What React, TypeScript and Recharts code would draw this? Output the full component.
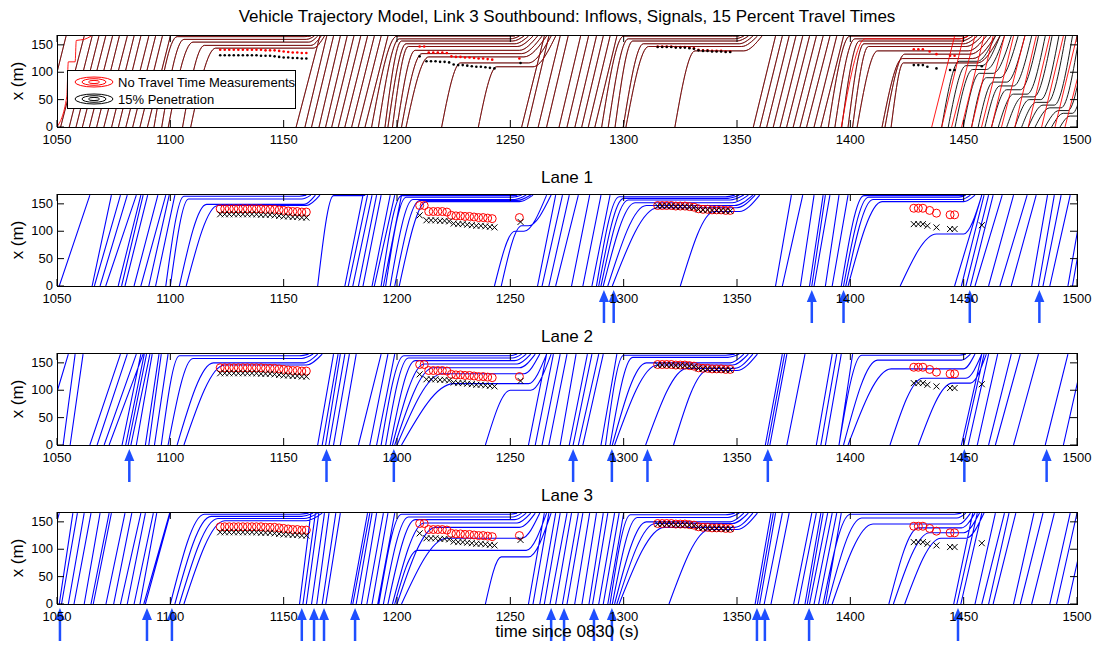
import React from 'react';
import { ComposedChart, Line, Scatter, XAxis, YAxis } from 'recharts';

// [enter time, exit time] : vehicles that cross the link without stopping
// [enter time, time reaching queue, queue position, departure time, exit time] : vehicles that stop
type Free = [number, number];
type Queued = [number, number, number, number, number];

const T_TICKS = [1050, 1100, 1150, 1200, 1250, 1300, 1350, 1400, 1450, 1500];
const X_TICKS = [0, 50, 100, 150];
const LINK_END = 166;

// ---- top panel (whole link) ----
const topFree: Free[] = [
  [1044, 1054], [1051.6, 1062], [1055.4, 1065.5], [1058.4, 1068.5], [1061.2, 1071.5], [1064.3, 1074.5], [1067.5, 1077.5],
  [1070.7, 1081], [1074.1, 1084], [1077.1, 1087], [1080.4, 1090.5], [1083.4, 1093.5], [1086.6, 1096.5], [1089.9, 1100],
  [1155.5, 1166], [1159.4, 1169], [1162.3, 1172], [1165.6, 1175], [1168.5, 1178], [1171.2, 1181], [1174.1, 1184],
  [1177, 1187], [1180, 1190], [1182.9, 1193], [1185.9, 1196],
  [1255, 1265], [1257.5, 1267], [1262.3, 1272], [1266, 1275.5], [1271.5, 1281], [1275, 1284.5], [1278.5, 1288],
  [1281.5, 1291], [1284.4, 1294], [1287.3, 1297],
  [1357.2, 1367], [1360.1, 1370], [1363.1, 1373], [1366, 1376], [1369, 1379], [1371.9, 1382], [1374.8, 1385],
  [1377.8, 1388], [1380.7, 1391], [1384, 1394], [1387, 1397],
];
const topQueued: Queued[] = [
  [1092.8, 1103, 165, 1159, 1162], [1096.2, 1106, 160, 1160, 1163.5], [1099.1, 1110, 155, 1161, 1165],
  [1105.4, 1115, 149, 1162, 1166.5], [1109, 1120, 144, 1163, 1168],
  [1188.8, 1200, 166, 1249, 1252], [1191.8, 1201, 161, 1250, 1254], [1194.7, 1202, 157, 1251, 1256], [1196, 1204, 152, 1252, 1258],
  [1198, 1205, 147, 1253, 1260], [1200, 1208, 140, 1254, 1262], [1202, 1211, 134, 1255, 1264], [1204, 1214, 128, 1256, 1266],
  [1219.7, 1228, 117, 1258, 1268], [1235.9, 1244, 110, 1260, 1270],
  [1290.3, 1300, 166, 1348, 1351], [1293.2, 1302, 161, 1349, 1353], [1296.2, 1304, 157, 1350, 1355],
  [1299.8, 1308.7, 152, 1351, 1357], [1301, 1311, 147, 1352, 1359], [1322.6, 1331.5, 139, 1353, 1361],
  [1390.3, 1399.8, 166, 1447, 1450], [1393.2, 1402, 161, 1448, 1452], [1396.2, 1404, 157, 1449, 1454], [1399, 1406, 152, 1450, 1456],
  [1401, 1408, 147, 1451, 1458], [1403, 1412, 139, 1452, 1460], [1414, 1423, 125, 1454, 1464], [1415.3, 1424, 133, 1453, 1462],
  [1418, 1423.4, 117, 1456, 1466],
];
// 15% penetration model only (black)
const topBlackQueued: Queued[] = [
  [1440.3, 1448, 120, 1456, 1464], [1443.2, 1451, 112, 1458, 1466], [1446.2, 1454, 105, 1460, 1468], [1449.8, 1457, 98, 1463, 1471],
  [1453.5, 1460, 90, 1466, 1474], [1456.4, 1463, 82, 1469, 1477], [1459.4, 1466, 75, 1472, 1480], [1462.3, 1469, 68, 1475, 1483],
  [1465.3, 1472, 60, 1478, 1486], [1469, 1476, 55, 1481, 1489], [1472.6, 1479, 50, 1484, 1492], [1475.6, 1482, 45, 1487, 1495],
  [1478.5, 1485, 40, 1490, 1498], [1481.5, 1488, 35, 1493, 1501], [1485.9, 1492, 30, 1496, 1504], [1488.8, 1494, 25, 1498, 1506],
  [1492.5, 1497, 20, 1500, 1508],
];
// no travel time measurement model only (red)
const topRedFree: Free[] = [
  [1435.9, 1446], [1440.3, 1450], [1444.7, 1455], [1449.1, 1459], [1453.5, 1463], [1457.9, 1468], [1462.3, 1472],
  [1466.7, 1477], [1472.6, 1482], [1478.5, 1488], [1484.4, 1494], [1490.3, 1500], [1494.7, 1505],
];
const topRedQueued: Queued[] = [[1396, 1406.5, 161, 1448, 1452]];
const topRedStairT = [1050, 1054.3, 1055, 1058, 1058.5, 1062, 1065];
const topRedStairX = [0, 55, 119, 119, 158, 160, 166];

// ---- lanes ----
const lane1Free: Free[] = [
  [1051, 1064.5], [1065.5, 1074], [1066.5, 1078], [1069, 1081], [1071.5, 1085], [1077, 1087], [1078.5, 1088],
  [1080, 1090], [1084, 1094.5], [1087, 1098], [1090.5, 1099.5], [1093.5, 1102],
  [1177, 1185], [1178.5, 1187], [1180.5, 1189], [1183, 1191], [1185, 1193], [1189, 1197], [1190, 1199], [1194, 1202],
  [1262, 1270], [1264, 1273], [1267, 1276], [1270, 1280], [1277, 1285], [1282, 1290], [1286, 1294],
  [1367, 1374], [1370, 1379], [1378, 1384], [1382, 1388], [1383, 1389], [1384, 1391], [1389, 1395], [1392, 1399],
  [1446, 1458], [1449, 1459], [1451, 1461], [1453, 1463], [1455, 1467], [1461, 1472], [1466, 1478], [1471, 1482],
  [1480, 1487], [1483, 1490], [1485, 1493], [1488, 1497], [1496, 1503], [1498, 1505],
];
const lane1Queued: Queued[] = [
  [1098, 1106, 164, 1157, 1160], [1100, 1108, 159, 1158, 1162], [1104, 1116, 149, 1159, 1164], [1107, 1121, 147, 1160, 1166],
  [1165, 1172, 165, 1184, 1186],
  [1193, 1202, 165, 1250, 1253], [1195, 1204, 162, 1251, 1255], [1197, 1207, 158, 1252, 1257], [1199, 1210, 156, 1253, 1259],
  [1201, 1213, 154, 1254, 1260], [1243, 1252, 100, 1256, 1266], [1246, 1255, 110, 1258, 1268],
  [1288, 1298, 163, 1345, 1349], [1289, 1300, 160, 1346, 1351], [1290, 1302, 157, 1347, 1353], [1291, 1305, 152, 1348, 1355],
  [1293, 1310, 147, 1349, 1357], [1295, 1315, 143, 1350, 1358], [1325, 1340, 136, 1351, 1360],
  [1396, 1406, 165, 1447, 1450], [1397, 1408, 162, 1448, 1451], [1398, 1410, 158, 1449, 1453], [1399, 1414, 154, 1450, 1455],
  [1422, 1438, 95, 1450, 1458],
];
const lane1Arrows = [1291.3, 1295.6, 1383, 1397, 1452.7, 1483.4];

const lane2Free: Free[] = [
  [1043, 1055], [1052.7, 1058], [1055.8, 1061.5], [1064.5, 1078], [1067.7, 1081], [1070.8, 1085], [1073, 1088],
  [1078.7, 1087], [1080.3, 1088.5], [1081.4, 1089.5], [1082.6, 1091], [1085, 1092], [1089, 1095], [1090.5, 1096], [1093, 1099],
  [1165, 1172], [1167, 1174], [1168.5, 1175], [1170, 1177], [1172, 1179], [1175, 1182], [1183, 1193], [1188, 1196], [1191, 1199],
  [1258, 1266], [1261, 1269], [1264, 1272], [1267, 1275], [1272, 1279], [1276, 1284], [1277.7, 1286], [1280, 1289],
  [1282, 1291], [1290, 1297],
  [1362.5, 1370], [1363.5, 1371], [1364.5, 1372], [1372, 1380], [1385, 1392], [1387, 1394], [1389, 1396], [1395, 1401],
  [1449, 1458], [1450, 1459], [1452, 1461], [1456, 1465], [1461, 1471], [1464, 1475], [1472, 1483], [1486, 1496], [1494, 1503],
];
const lane2Queued: Queued[] = [
  [1096, 1104, 163, 1157, 1161], [1099, 1110, 158, 1158, 1163], [1103, 1119, 150, 1159, 1165], [1106, 1124, 146, 1160, 1167],
  [1193, 1203, 163, 1250, 1253], [1195, 1205, 159, 1251, 1255], [1197, 1208, 154, 1252, 1257], [1198, 1212, 148, 1253, 1259],
  [1199, 1216, 141, 1254, 1261], [1200, 1220, 130, 1256, 1263], [1202, 1225, 112, 1258, 1266], [1239, 1250, 100, 1259, 1268],
  [1292, 1300, 164, 1345, 1349], [1294, 1304, 160, 1346, 1351], [1295, 1310, 150, 1347, 1353], [1296, 1315, 146, 1348, 1355],
  [1309.7, 1328, 140, 1349, 1357], [1322, 1337, 136, 1350, 1359],
  [1395, 1405, 164, 1448, 1451], [1397, 1412, 155, 1449, 1453], [1399, 1418, 139, 1450, 1455], [1417.5, 1432, 122, 1451, 1458],
  [1430, 1445, 113, 1453, 1460],
];
const lane2Arrows = [1081.9, 1168.9, 1198.6, 1277.7, 1294.8, 1310.5, 1363.6, 1450.3, 1486.6];

const lane3Free: Free[] = [
  [1040, 1051], [1051, 1057], [1052, 1059], [1055, 1062], [1057.5, 1065], [1062, 1069], [1065, 1073], [1066, 1074],
  [1071.6, 1080], [1075, 1083], [1078, 1087], [1081, 1089], [1084, 1092.5], [1086.6, 1094], [1088.3, 1099.7], [1089, 1100],
  [1157, 1162], [1158.5, 1164], [1160, 1165.5], [1162.3, 1168], [1164.6, 1170], [1167, 1173], [1168.6, 1175],
  [1179.7, 1187], [1180.5, 1188], [1182, 1189], [1184.3, 1191], [1186.7, 1194], [1189, 1196], [1191.5, 1199],
  [1258, 1265], [1260, 1267], [1263, 1270], [1265, 1272], [1267.5, 1275], [1270, 1277], [1273, 1280], [1275, 1282],
  [1278.4, 1285], [1281.6, 1288], [1284.7, 1291], [1286.3, 1293], [1289, 1296], [1291, 1298], [1293, 1300],
  [1358, 1365], [1359, 1366], [1360, 1367], [1362, 1370], [1365, 1373], [1375, 1383], [1377, 1385], [1380, 1387],
  [1381, 1388], [1382, 1390], [1384, 1392], [1386, 1394], [1389, 1396],
  [1445.6, 1454], [1447, 1456], [1448.75, 1458], [1455, 1464], [1458, 1468], [1461, 1470], [1463, 1473], [1472, 1481],
  [1475, 1485], [1480, 1490], [1488, 1497], [1491, 1500], [1496, 1505],
];
const lane3Queued: Queued[] = [
  [1100, 1115, 164, 1157, 1161], [1102, 1118, 160, 1158, 1163], [1104, 1121, 156, 1159, 1165], [1106, 1124, 152, 1160, 1167],
  [1192, 1202, 164, 1250, 1253], [1194, 1205, 159, 1251, 1255], [1196, 1208, 154, 1252, 1257], [1198, 1212, 148, 1253, 1259],
  [1200, 1217, 140, 1254, 1261], [1202, 1222, 120, 1255, 1263], [1199, 1209, 98, 1257, 1266], [1239, 1246, 86, 1258, 1268],
  [1294, 1303, 163, 1345, 1349], [1295, 1306, 158, 1346, 1351], [1296, 1310, 150, 1347, 1353], [1297, 1314, 147, 1348, 1355],
  [1298, 1318, 140, 1349, 1357], [1320, 1338, 136, 1350, 1359],
  [1388, 1400, 164, 1446, 1449], [1390, 1405, 157, 1447, 1451], [1392, 1410, 146, 1448, 1453], [1417, 1430, 139, 1449, 1455],
  [1419, 1435, 130, 1450, 1457], [1424, 1440, 120, 1451, 1459],
];
const lane3Arrows = [1051.3, 1089.7, 1100.7, 1158, 1163.4, 1167.8, 1181.5, 1268, 1273.7, 1286.9, 1294.8, 1358.8, 1362.3, 1381.8, 1447.5];

// travel time measurement markers
const circleT = [
  1122, 1124, 1126, 1128, 1130, 1132, 1134, 1136, 1138, 1140, 1142, 1144, 1146, 1148, 1150, 1152, 1154, 1156, 1158, 1160,
  1210, 1212, 1214, 1216, 1218, 1220, 1222, 1224, 1226, 1228, 1230, 1232, 1234, 1236, 1238, 1240, 1242, 1254,
  1315, 1317, 1319, 1321, 1323, 1325, 1327, 1329, 1331, 1333, 1335, 1337, 1339, 1341, 1343, 1345, 1347,
  1428, 1430, 1432, 1435, 1438, 1444, 1446,
];
const circleX = [
  141, 141, 141, 141, 141, 141, 141, 141, 141, 141, 140, 140, 140, 139, 138, 137, 136, 136, 135, 135,
  147, 147, 136, 136, 136, 136, 135, 129, 128, 128, 127, 127, 126, 125, 125, 124, 123, 125,
  147, 147, 147, 147, 146, 146, 146, 145, 144, 141, 140, 140, 139, 139, 139, 138, 138,
  142, 142, 142, 138, 133, 130, 130,
];
const crossT = [
  1122, 1124, 1126, 1128, 1130, 1132, 1134, 1136, 1138, 1140, 1142, 1144, 1146, 1148, 1150, 1152, 1154, 1156, 1158, 1160,
  1210, 1213, 1215, 1217, 1219, 1221, 1223, 1225, 1227, 1229, 1231, 1233, 1235, 1237, 1239, 1241, 1243, 1254.5,
  1315, 1317, 1319, 1321, 1323, 1325, 1327, 1329, 1331, 1333, 1335, 1337, 1339, 1341, 1343, 1345, 1347,
  1428, 1430, 1432, 1434, 1438, 1444, 1446, 1458,
];
const crossX = [
  131, 131, 131, 131, 131, 131, 131, 131, 131, 130, 130, 130, 129, 128, 127, 127, 126, 126, 125, 125,
  129, 120, 120, 120, 119, 119, 118, 114, 113, 113, 112, 111, 110, 110, 109, 108, 107, 117,
  146, 146, 146, 146, 145, 145, 145, 144, 143, 140, 139, 139, 138, 138, 138, 137, 137,
  113, 113, 113, 110, 107, 104, 104, 111,
];

const FONT = "'Liberation Sans', Arial, Helvetica, sans-serif";
const BLUE = '#0000ff';
const ARROW = '#1f4fff';
const W = 1094;
const LEFT = 57;
const RIGHT = 1077;
const PH = 92;
const MT = 6;
const CH = MT + PH + 44;
const PANEL_TOPS = [35, 194, 353, 512];

type Row = { t: number; x: number | null };

const trajectoryRows = (free: Free[], queued: Queued[]): Row[] => {
  const rows: Row[] = [];
  free.forEach(([t0, t1]) => {
    rows.push({ t: t0, x: 0 }, { t: t1, x: LINK_END }, { t: t1, x: null });
  });
  queued.forEach(([t0, ta, q, tg, to]) => {
    rows.push({ t: t0, x: 0 }, { t: ta, x: q }, { t: tg, x: q }, { t: to, x: LINK_END }, { t: to, x: null });
  });
  return rows;
};

const zip = (ts: number[], xs: number[]) => ts.map((t, i) => ({ t, x: xs[i] }));
const circles = zip(circleT, circleX);
const crosses = zip(crossT, crossX);

const lanes = [
  { name: 'Lane 1', rows: trajectoryRows(lane1Free, lane1Queued), arrows: lane1Arrows },
  { name: 'Lane 2', rows: trajectoryRows(lane2Free, lane2Queued), arrows: lane2Arrows },
  { name: 'Lane 3', rows: trajectoryRows(lane3Free, lane3Queued), arrows: lane3Arrows },
];

const topShared = trajectoryRows(topFree, topQueued);
const topBlackRows = [...topShared, ...trajectoryRows([], topBlackQueued)];
const topRedOnly = [...trajectoryRows(topRedFree, topRedQueued), ...zip(topRedStairT, topRedStairX)];

const timeTick = (props: any) => {
  const { x, payload } = props;
  const bottom = MT + PH;
  return (
    <g>
      <line x1={x} x2={x} y1={bottom} y2={bottom - 7} stroke="#000" />
      <line x1={x} x2={x} y1={MT} y2={MT + 7} stroke="#000" />
      <text x={x} y={bottom + 17} textAnchor="middle" fontSize={13} fontFamily={FONT} fill="#000">
        {payload.value}
      </text>
    </g>
  );
};

const posTick = (props: any) => {
  const { y, payload } = props;
  return (
    <g>
      <line x1={LEFT} x2={LEFT + 7} y1={y} y2={y} stroke="#000" />
      <line x1={RIGHT} x2={RIGHT - 7} y1={y} y2={y} stroke="#000" />
      <text x={LEFT - 4} y={y + 4} textAnchor="end" fontSize={13} fontFamily={FONT} fill="#000">
        {payload.value}
      </text>
    </g>
  );
};

const circleShape = (p: any) => <circle cx={p.cx} cy={p.cy} r={4} fill="none" stroke="#ff0000" strokeWidth={1} />;
const crossShape = (p: any) => (
  <path d={`M${p.cx - 3},${p.cy - 3}L${p.cx + 3},${p.cy + 3}M${p.cx - 3},${p.cy + 3}L${p.cx + 3},${p.cy - 3}`} stroke="#000" strokeWidth={1} />
);
const redDot = (p: any) => <circle cx={p.cx} cy={p.cy} r={1.3} fill="#ff0000" />;
const blackDot = (p: any) => <circle cx={p.cx} cy={p.cy} r={1.3} fill="#000" />;
const arrowShape = (p: any) => (
  <g>
    <line x1={p.cx} x2={p.cx} y1={p.cy + 14} y2={p.cy + 37} stroke={ARROW} strokeWidth={2.5} />
    <polygon points={`${p.cx},${p.cy + 4} ${p.cx - 5},${p.cy + 16} ${p.cx + 5},${p.cy + 16}`} fill={ARROW} />
  </g>
);

function Frame({ top }: { top: number }) {
  return (
    <div
      style={{
        position: 'absolute', left: LEFT, top, width: RIGHT - LEFT + 1, height: PH + 1,
        border: '1px solid #000', boxSizing: 'border-box', pointerEvents: 'none',
      }}
    />
  );
}

function YLabel({ top }: { top: number }) {
  return (
    <div
      style={{
        position: 'absolute', left: 18 - 40, top: top + PH / 2 - 10, width: 80, height: 20, lineHeight: '20px',
        textAlign: 'center', transform: 'rotate(-90deg)', fontSize: 17, fontFamily: FONT,
      }}
    >
      x (m)
    </div>
  );
}

function Label({ text, cy, size }: { text: string; cy: number; size: number }) {
  return (
    <div
      style={{
        position: 'absolute', left: LEFT, width: RIGHT - LEFT, top: cy - 11, height: 22, lineHeight: '22px',
        textAlign: 'center', fontSize: size, fontFamily: FONT, color: '#000', whiteSpace: 'nowrap',
      }}
    >
      {text}
    </div>
  );
}

function Rings({ color }: { color: string }) {
  return (
    <svg width={40} height={12} style={{ display: 'block' }}>
      <ellipse cx={20} cy={6} rx={19} ry={5} fill="none" stroke={color} strokeWidth={1} />
      <ellipse cx={20} cy={6} rx={12} ry={3.3} fill="none" stroke={color} strokeWidth={1} />
      <ellipse cx={20} cy={6} rx={5.5} ry={1.6} fill="none" stroke={color} strokeWidth={1} />
    </svg>
  );
}

export default function App() {
  const panel = (top: number, children: React.ReactNode) => (
    <div style={{ position: 'absolute', left: 0, top: top - MT }}>
      <ComposedChart width={W} height={CH} margin={{ top: MT, right: W - RIGHT, bottom: 0, left: 7 }}>
        <XAxis dataKey="t" type="number" domain={[1050, 1500]} ticks={T_TICKS} allowDataOverflow interval={0}
          tick={timeTick} tickLine={false} axisLine={false} height={44} />
        <YAxis dataKey="x" type="number" domain={[0, 168]} ticks={X_TICKS} allowDataOverflow interval={0}
          tick={posTick} tickLine={false} axisLine={false} width={LEFT - 7} />
        <XAxis xAxisId="free" dataKey="t" type="number" domain={[1050, 1500]} hide />
        <YAxis yAxisId="free" dataKey="x" type="number" domain={[0, 168]} hide />
        {children}
      </ComposedChart>
    </div>
  );

  return (
    <div style={{ position: 'absolute', left: 0, top: 0, width: W, height: 645, background: '#fff', fontFamily: FONT }}>
      <Label text="Vehicle Trajectory Model, Link 3 Southbound: Inflows, Signals, 15 Percent Travel Times" cy={17} size={17} />
      {panel(PANEL_TOPS[0], [
        <Line key="b" data={topBlackRows} dataKey="x" type="monotone" stroke="#000" strokeWidth={0.9} dot={false} activeDot={false} isAnimationActive={false} />,
        <Line key="r" data={topShared} dataKey="x" type="monotone" stroke="#ff0000" strokeOpacity={0.5} strokeWidth={0.9} dot={false} activeDot={false} isAnimationActive={false} />,
        <Line key="ro" data={topRedOnly} dataKey="x" type="monotone" stroke="#ff0000" strokeWidth={0.9} dot={false} activeDot={false} isAnimationActive={false} />,
        <Scatter key="rd" data={circles} shape={redDot} isAnimationActive={false} />,
        <Scatter key="bd" data={crosses} shape={blackDot} isAnimationActive={false} />,
      ])}
      <Frame top={PANEL_TOPS[0]} />
      <YLabel top={PANEL_TOPS[0]} />
      <div
        style={{
          position: 'absolute', left: 67, top: 70, width: 229, height: 39, border: '1px solid #000',
          boxSizing: 'border-box', background: '#fff', fontSize: 13, fontFamily: FONT,
        }}
      >
        <div style={{ position: 'absolute', left: 6, top: 4, display: 'flex', alignItems: 'center', gap: 4, height: 14 }}>
          <Rings color="#ff0000" />
          <span>No Travel Time Measurements</span>
        </div>
        <div style={{ position: 'absolute', left: 6, top: 21, display: 'flex', alignItems: 'center', gap: 4, height: 14 }}>
          <Rings color="#000" />
          <span>15% Penetration</span>
        </div>
      </div>

      {lanes.map((lane, i) => {
        const top = PANEL_TOPS[i + 1];
        return (
          <React.Fragment key={lane.name}>
            <Label text={lane.name} cy={top - 16} size={17} />
            {panel(top, [
              <Line key="l" data={lane.rows} dataKey="x" type="monotone" stroke={BLUE} strokeWidth={1.1} dot={false} activeDot={false} isAnimationActive={false} />,
              <Scatter key="c" data={circles} shape={circleShape} isAnimationActive={false} />,
              <Scatter key="x" data={crosses} shape={crossShape} isAnimationActive={false} />,
              <Scatter key="a" data={lane.arrows.map((t) => ({ t, x: 0 }))} xAxisId="free" yAxisId="free" shape={arrowShape} isAnimationActive={false} />,
            ])}
            <Frame top={top} />
            <YLabel top={top} />
          </React.Fragment>
        );
      })}
      <Label text="time since 0830 (s)" cy={632} size={17} />
    </div>
  );
}
